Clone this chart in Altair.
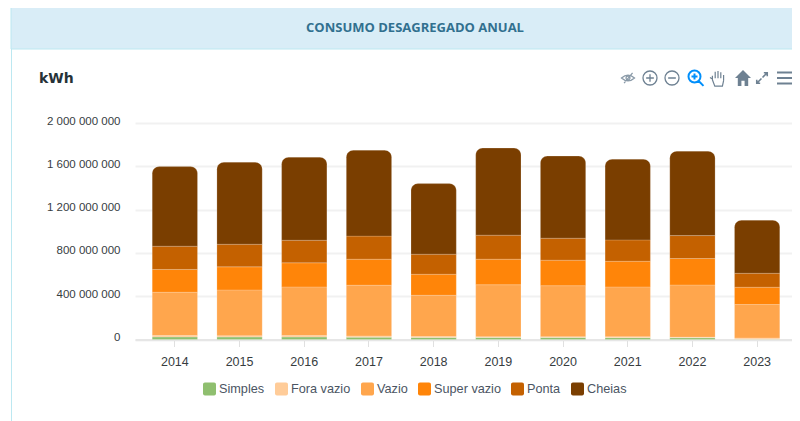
import altair as alt
import pandas as pd

years = ["2014","2015","2016","2017","2018","2019","2020","2021","2022","2023"]
simples = [24,23,23,21,18,18,18,17,16,3]
fora_vazio = [13,12,13,12,10,8,8,8,6,11]
vazio = [400,423,450,469,381,480,471,461,482,309]
super_vazio = [210,213,222,240,194,236,236,237,244,160]
ponta = [215,209,209,213,185,222,203,197,212,129]
cheias = [735,758,767,794,652,804,758,746,780,490]

names = ["Simples","Fora vazio","Vazio","Super vazio","Ponta","Cheias"]
colors = ["#8fbf6f","#ffcc99","#ffa64d","#ff8509","#c46100","#7a3e00"]
series = [simples,fora_vazio,vazio,super_vazio,ponta,cheias]

rows = []
for i, y in enumerate(years):
    base = 0
    for n, s in zip(names, series):
        v = s[i] * 1e6
        rows.append({"year": y, "serie": n, "y0": base, "y1": base + v})
        base += v
df = pd.DataFrame(rows)

xs = alt.X("year:N", title=None, scale=alt.Scale(paddingInner=0.3, paddingOuter=0.2275, align=0.585),
           axis=alt.Axis(labelAngle=0, labelFont="Liberation Sans", labelFontSize=12.5, labelColor="#373d3f",
                         domainColor="#e6e6e6", domainWidth=2, tickColor="#e0e0e0", tickSize=7,
                         labelPadding=9, grid=False))
ys = alt.Y("y1:Q", title=None, scale=alt.Scale(domain=[0, 2e9], nice=False),
           axis=alt.Axis(values=[0,4e8,8e8,1.2e9,1.6e9,2e9], tickSize=0, domain=False, labelPadding=15,
                         gridColor="#f1f1f1", gridWidth=2, labelFont="Liberation Sans", labelFontSize=11.5,
                         labelColor="#373d3f", labelOffset=-2,
                         labelExpr="replace(format(datum.value, ','), /,/g, ' ')"))
rounded = "M-0.7,-1H0.7Q1,-1,1,-0.7V0.7Q1,1,0.7,1H-0.7Q-1,1,-1,0.7V-0.7Q-1,-1,-0.7,-1Z"
color = alt.Color("serie:N", scale=alt.Scale(domain=names, range=colors), sort=names,
                  legend=alt.Legend(title=None, orient="none", legendX=68, legendY=259, direction="horizontal",
                                    columns=6, gridAlign="each", columnPadding=10, symbolType=rounded,
                                    symbolSize=169, symbolStrokeWidth=0, symbolOpacity=1, labelOffset=3,
                                    labelFont="Liberation Sans", labelFontSize=12.7, labelColor="#4b5563"))
enc = dict(x=xs, y=ys, y2="y0:Q", color=color)
stroke = dict(stroke="white", strokeOpacity=0.18, strokeWidth=1)
lower = alt.Chart(df[df.serie != "Cheias"]).mark_bar(**stroke).encode(**enc)
upper = alt.Chart(df[df.serie == "Cheias"]).mark_bar(cornerRadiusTopLeft=7, cornerRadiusTopRight=7, **stroke).encode(**enc)

one = pd.DataFrame({"k": [0]})
def rect(x, x2, y, y2, fill, **kw):
    return alt.Chart(one).mark_rect(fill=fill, **kw).encode(x=alt.value(x), x2=alt.value(x2), y=alt.value(y), y2=alt.value(y2))
def text(t, x, y, **kw):
    return alt.Chart(one).mark_text(text=t, **kw).encode(x=alt.value(x), y=alt.value(y))
def icon(path, x, y, size, **kw):
    return alt.Chart(one).mark_point(shape=path, size=size, opacity=1, **kw).encode(x=alt.value(x), y=alt.value(y))

# page x = 135 + x, page y = 123 + y
panel = [
    rect(-124, -123, -118, 298, "#bce8f1"),
    rect(-124, 665, -118, -74, "#d9edf7", stroke="#bce8f1", strokeWidth=1),
    text("CONSUMO DESAGREGADO ANUAL", 280, -95, font="Open Sans", fontWeight="bold", fontSize=13, color="#31708f"),
    text("kWh", -96, -44, font="DejaVu Sans", fontWeight="bold", fontSize=14, align="left", color="#263238"),
]
g = "#6e8192"
circle = "M-1,0A1,1,0,1,1,1,0A1,1,0,1,1,-1,0Z"
icons = [
    icon("M-1,0Q0,-0.9,1,0Q0,0.9,-1,0ZM-0.3,0A0.3,0.3,0,1,0,0.3,0A0.3,0.3,0,1,0,-0.3,0ZM-0.6,0.8L0.7,-0.8", 493, -45, 170, stroke="#8a9aa8", strokeWidth=1.3, filled=False),
    icon(circle + "M-0.55,0H0.55M0,-0.55V0.55", 515, -45, 196, stroke=g, strokeWidth=1.3, filled=False),
    icon(circle + "M-0.55,0H0.55", 537, -45, 196, stroke=g, strokeWidth=1.3, filled=False),
    icon("M-1,-0.2A0.8,0.8,0,1,1,0.6,-0.2A0.8,0.8,0,1,1,-1,-0.2ZM0.35,0.4L1,1.05M-0.6,-0.2H0.2M-0.2,-0.6V0.2", 561, -45, 225, stroke="#008ffb", strokeWidth=2, filled=False),
    icon("M-0.7,0.1L-0.7,-0.4V-0.1M-0.35,-0.1V-0.9M0,-0.1V-1M0.35,-0.1V-0.85M0.7,0.2V-0.5M-0.7,0.1L-0.4,0.9H0.55L0.7,0.2M-0.7,0L-1,-0.2", 583, -44, 256, stroke=g, strokeWidth=1.2, filled=False),
    icon("M0,-1L1,0H0.65V1H0.2V0.35H-0.2V1H-0.65V0H-1Z", 608, -45, 256, fill=g, filled=True),
    icon("M0.1,-0.1L0.9,-0.9M0.35,-1H1V-0.35M-0.1,0.1L-0.9,0.9M-0.35,1H-1V0.35", 627, -45, 110, stroke=g, strokeWidth=1.6, filled=False),
    icon("M-1,-0.7H1M-1,0H1M-1,0.7H1", 650, -45, 256, stroke=g, strokeWidth=2, filled=False),
]

chart = alt.layer(*panel, lower, upper, *icons).properties(
    width=657, height=216.5,
    padding={"left": 127, "top": 115, "right": 0, "bottom": 81},
    autosize=alt.AutoSizeParams(type="none"),
    background="white",
).configure_view(stroke=None)

chart.save("out.html", embed_options={"renderer": "svg", "actions": False})
